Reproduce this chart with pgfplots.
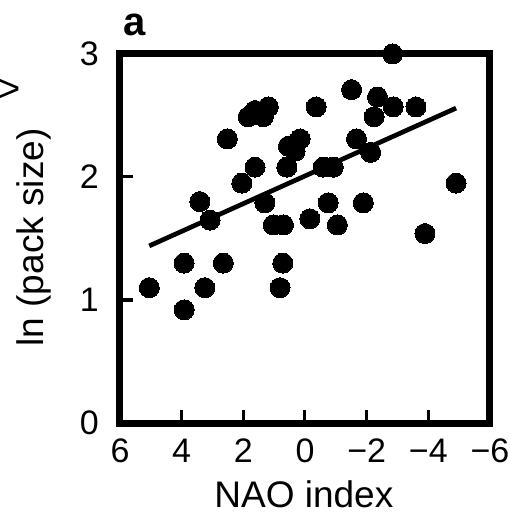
\documentclass[border=0pt]{standalone}
\usepackage{pgfplots}
\pgfplotsset{compat=1.18}
\usepackage{fontspec}
\setmainfont{Liberation Sans}

% pack size vs NAO index
\pgfplotstableread{
x y
5.05 1.10
3.92 0.92
3.92 1.30
3.41 1.80
3.25 1.10
3.08 1.65
2.65 1.30
2.52 2.31
2.05 1.95
1.84 2.49
1.62 2.54
1.62 2.08
1.35 2.49
1.19 2.57
1.30 1.79
1.03 1.61
0.70 1.61
0.72 1.30
0.81 1.10
0.59 2.08
0.54 2.25
0.32 2.21
0.16 2.31
-0.16 1.66
-0.36 2.57
-0.59 2.08
-0.75 1.79
-0.92 2.08
-1.05 1.61
-1.51 2.71
-1.67 2.31
-1.89 1.79
-2.13 2.20
-2.24 2.49
-2.35 2.65
-2.84 3.00
-2.86 2.57
-3.60 2.57
-3.89 1.54
-4.90 1.95
}\packdata

\begin{document}
\begin{tikzpicture}
\useasboundingbox (-120pt,-91pt) rectangle (390pt,423pt);
\begin{axis}[
  scale only axis,
  width=370pt, height=369pt,
  x dir=reverse,
  xmin=-6, xmax=6, ymin=0, ymax=3,
  xtick={6,4,2,0,-2,-4,-6},
  xticklabels={6,4,2,0,−2,−4,−6},
  ytick={0,1,2,3},
  yticklabels={0,1,2,3},
  xtick pos=bottom, ytick pos=left,
  tick align=inside,
  major tick length=13pt,
  tick style={black, line width=3pt},
  axis line style={line width=7pt, line cap=rect, line join=miter},
  ticklabel style={font=\fontsize{34}{40}\selectfont, inner sep=0pt},
  xticklabel style={anchor=north, yshift=-16pt},
  yticklabel style={anchor=east, xshift=-21pt},
  xlabel={NAO index},
  ylabel={ln (pack size)},
  label style={font=\fontsize{37}{44}\selectfont, inner sep=0pt},
  xlabel style={at={(axis description cs:0.497,-0.228)}, anchor=base},
  ylabel style={at={(axis description cs:-0.208,0.503)}, anchor=base},
  clip=false,
]
\addplot[only marks, mark=*, mark size=10pt,
         mark options={draw=black, fill=black, line width=0pt}]
  table[x=x, y=y] {\packdata};
% regression line
\addplot[black, line width=4.7pt, line cap=butt]
  coordinates {(5.05,1.44) (-4.90,2.56)};
\node[anchor=base west, inner sep=0pt, font=\fontsize{40}{48}\selectfont\bfseries]
  at (axis description cs:0.008,1.051) {a};
% fragment of the neighbouring panel
\node[anchor=west, inner sep=0pt, font=\normalsize, scale=3.8]
  at (axis description cs:-0.330,0.902) {>};
\end{axis}
\end{tikzpicture}
\end{document}
